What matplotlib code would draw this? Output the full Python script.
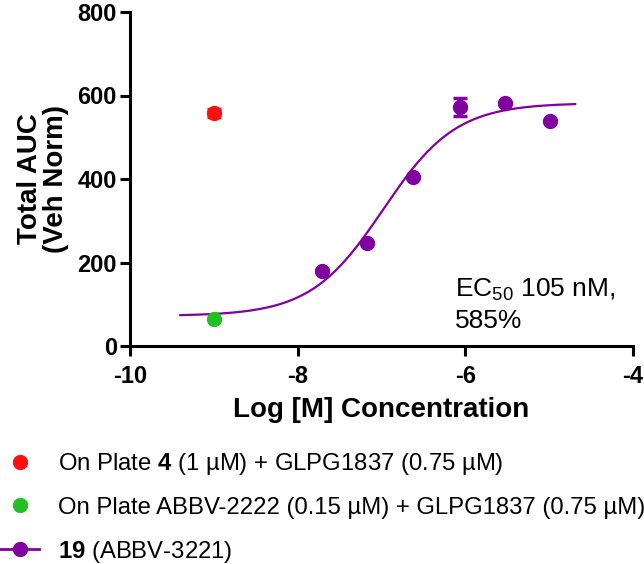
import numpy as np
import matplotlib.pyplot as plt

plt.rcParams['font.family'] = ['Liberation Sans', 'DejaVu Sans']
plt.rcParams['mathtext.fontset'] = 'custom'
plt.rcParams['mathtext.rm'] = 'Liberation Sans'
plt.rcParams['mathtext.bf'] = 'Liberation Sans:bold'

PURPLE = '#8000A0'
RED = '#FF1010'
GREEN = '#22C022'

# compound 19 dose response
log_conc = [-7.71, -7.17, -6.62, -6.06, -5.53, -4.99]
auc = [180, 247, 405, 572, 582, 539]
auc_err = [0, 0, 0, 22, 0, 0]

# on-plate controls
ctrl_x = [-9.0]
red_auc = [558]
red_err = [10]
green_auc = [65]

# fitted curve parameters (4PL)
fit_bottom = 72
fit_top = 582
fit_logec50 = -6.98
fit_hill = 1.0
fit_range = (-9.4, -4.69)

fig = plt.figure(figsize=(6.44, 5.64), dpi=100)
ax = fig.add_axes([130 / 644, 1 - 346 / 564, 503 / 644, 334 / 564])

xc = np.linspace(fit_range[0], fit_range[1], 300)
yc = fit_bottom + (fit_top - fit_bottom) / (1 + 10 ** ((fit_logec50 - xc) * fit_hill))
ax.plot(xc, yc, color=PURPLE, lw=1.6, zorder=2)

ax.errorbar(ctrl_x, red_auc, yerr=red_err, fmt='o', color=RED, ms=10, capsize=5,
            elinewidth=3, capthick=2.5, zorder=3)
ax.plot(ctrl_x, green_auc, 'o', color=GREEN, ms=10, zorder=3)
ax.errorbar(log_conc, auc, yerr=auc_err, fmt='o', color=PURPLE, ms=10, capsize=5,
            elinewidth=4, capthick=2.5, zorder=3)

ax.set_xlim(-10, -4)
ax.set_ylim(0, 800)
ax.set_xticks([-10, -8, -6, -4])
ax.set_xticklabels(['-10', '-8', '-6', '-4'])
ax.set_yticks([0, 200, 400, 600, 800])
for s in ['top', 'right']:
    ax.spines[s].set_visible(False)
for s in ['left', 'bottom']:
    ax.spines[s].set_linewidth(2.2)
ax.tick_params(width=2.2, length=7.5, labelsize=17)
ax.tick_params(axis='x', pad=6)
ax.tick_params(axis='y', pad=2)
for lab in ax.get_xticklabels() + ax.get_yticklabels():
    lab.set_fontweight('bold')

ax.set_xlabel('Log [M] Concentration', fontsize=20, fontweight='bold', labelpad=7)
ax.set_ylabel('Total AUC\n(Veh Norm)', fontsize=20, fontweight='bold', labelpad=6,
              linespacing=1.0)

ax.text(-6.12, 43, 'EC$_{50}$ 105 nM,\n585%', fontsize=19, linespacing=1.33,
        ha='left', va='baseline')

# legend below the axes
h_red = plt.Line2D([], [], marker='o', color=RED, ls='none', ms=10)
h_green = plt.Line2D([], [], marker='o', color=GREEN, ls='none', ms=10)
h_purple = plt.Line2D([], [], marker='o', color=PURPLE, ls='-', lw=2, ms=10)
labels = [r'On Plate $\mathbf{4}$ (1 µM) + GLPG1837 (0.75 µM)',
          'On Plate ABBV-2222 (0.15 µM) + GLPG1837 (0.75 µM)',
          r'$\mathbf{19}$ (ABBV-3221)']
fig.legend([h_red, h_green, h_purple], labels, loc='upper left',
           bbox_to_anchor=(0.0, 1 - 451 / 564), frameon=False, fontsize=17.2,
           handlelength=1.65, handletextpad=0.78, labelspacing=0.83,
           borderpad=0, borderaxespad=0)

fig.savefig('out.png', dpi=100)
